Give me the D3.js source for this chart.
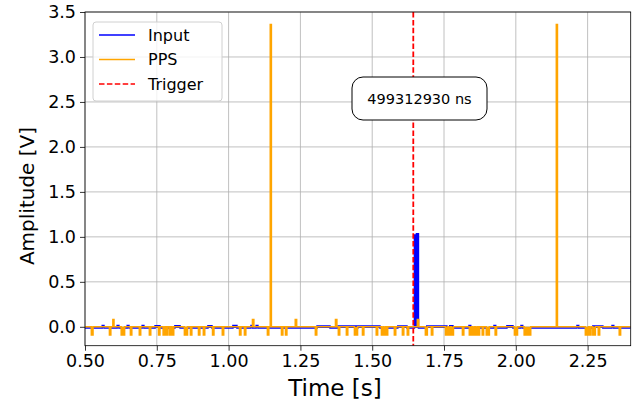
<!DOCTYPE html>
<html>
<head>
<meta charset="utf-8">
<script src="https://d3js.org/d3.v7.min.js"></script>
<style>
	body { margin: 0; background: #fff; }
	svg { font-family: "DejaVu Sans", sans-serif; display: block; }
</style>
</head>
<body>
<div class="chart"></div>
<script>

	// axis ticks
	var xTicks = [0.50, 0.75, 1.00, 1.25, 1.50, 1.75, 2.00, 2.25],
		yTicks = [0.0, 0.5, 1.0, 1.5, 2.0, 2.5, 3.0, 3.5];

	var xDomain = [0.5, 2.4],
		yDomain = [-0.21, 3.5];

	// trigger time [s] and annotation text
	var triggerTime = 1.643,
		triggerLabel = "499312930 ns";

	// PPS: big pulses [start, end, level]
	var ppsPulses = [
		[1.145, 1.149, 3.36],
		[2.141, 2.145, 3.36]
	];

	// PPS: small glitches around the 0 V baseline [start, end, level]
	var ppsGlitches = [
		[0.522, 0.528, -0.09], [0.585, 0.590, -0.09], [0.597, 0.601, 0.08],
		[0.626, 0.638, -0.09], [0.658, 0.663, -0.09], [0.689, 0.694, -0.09],
		[0.724, 0.729, -0.09], [0.756, 0.761, -0.09], [0.772, 0.778, -0.09],
		[0.783, 0.788, -0.09], [0.794, 0.799, -0.09], [0.803, 0.809, -0.09],
		[0.846, 0.857, -0.09], [0.867, 0.872, -0.09], [0.895, 0.900, -0.09],
		[0.912, 0.917, -0.09], [0.944, 0.949, -0.09], [0.978, 0.983, -0.09],
		[1.038, 1.043, -0.09], [1.055, 1.060, -0.09], [1.083, 1.088, 0.08],
		[1.135, 1.140, -0.09], [1.184, 1.189, -0.09], [1.198, 1.203, -0.09],
		[1.232, 1.237, 0.08], [1.302, 1.307, -0.09], [1.372, 1.377, 0.08],
		[1.382, 1.387, -0.09], [1.410, 1.415, -0.09], [1.438, 1.449, -0.09],
		[1.466, 1.471, -0.09], [1.514, 1.519, -0.09], [1.532, 1.538, -0.09],
		[1.541, 1.547, -0.09], [1.549, 1.554, -0.09], [1.577, 1.582, -0.09],
		[1.605, 1.610, -0.09], [1.622, 1.627, -0.09], [1.657, 1.662, 0.08],
		[1.685, 1.692, -0.09], [1.706, 1.711, -0.09], [1.755, 1.762, -0.09],
		[1.766, 1.772, -0.09], [1.776, 1.783, -0.09], [1.814, 1.819, -0.09],
		[1.838, 1.844, -0.09], [1.849, 1.855, -0.09], [1.860, 1.866, -0.09],
		[1.869, 1.874, -0.09], [1.883, 1.888, -0.09], [1.897, 1.908, -0.09],
		[1.928, 1.933, -0.09], [1.995, 2.006, -0.09], [2.029, 2.052, -0.09],
		[2.242, 2.253, -0.09], [2.256, 2.262, -0.09], [2.268, 2.277, -0.09],
		[2.287, 2.292, -0.09], [2.360, 2.365, -0.09]
	];

	// Input: baseline level and small noise bumps [start, end, level]
	var inputBaseline = -0.012;
	var inputNoise = [
		[0.560, 0.566, 0.015], [0.612, 0.618, 0.015], [0.647, 0.653, 0.015],
		[0.699, 0.705, 0.015], [0.744, 0.761, 0.012], [0.813, 0.831, 0.012],
		[0.928, 0.942, 0.012], [1.015, 1.029, 0.015], [1.078, 1.084, 0.015],
		[1.096, 1.102, 0.015], [1.308, 1.353, 0.008], [1.381, 1.447, 0.008],
		[1.450, 1.527, 0.008], [1.589, 1.621, 0.010],
		[1.647, 1.654, 1.02], [1.654, 1.661, 1.035],
		[1.690, 1.760, 0.008], [1.770, 1.781, 0.012], [1.837, 1.843, 0.015],
		[1.924, 1.930, 0.015], [1.969, 1.990, 0.012], [2.018, 2.024, 0.015],
		[2.213, 2.219, 0.015], [2.268, 2.303, 0.010], [2.335, 2.341, 0.015]
	];

	var margin = {top: 12, right: 3.3, bottom: 60.3, left: 85},
		width = 634,
		height = 406,
		innerW = width - margin.left - margin.right,
		innerH = height - margin.top - margin.bottom;

	// turns [start, end, level] segments into step points on a baseline
	function stepPoints(segments, base) {
		var pts = [[xDomain[0], base]];
		segments.slice().sort(function(a, b) { return a[0] - b[0]; }).forEach(function(s) {
			pts.push([s[0], s[2]]);
			pts.push([s[1], base]);
		});
		pts.push([xDomain[1], base]);
		return pts;
	}

	var svg = d3.select(".chart").append("svg")
		.attr("width", width)
		.attr("height", height);

	var g = svg.append("g")
		.attr("transform", "translate(" + margin.left + "," + margin.top + ")");

	var x = d3.scaleLinear().domain(xDomain).range([0, innerW]),
		y = d3.scaleLinear().domain(yDomain).range([innerH, 0]);

	// grid
	g.append("g").selectAll("line").data(xTicks).enter().append("line")
		.attr("x1", function(d) { return x(d); })
		.attr("x2", function(d) { return x(d); })
		.attr("y1", 0).attr("y2", innerH)
		.attr("stroke", "#b0b0b0").attr("stroke-width", 0.8);

	g.append("g").selectAll("line").data(yTicks).enter().append("line")
		.attr("y1", function(d) { return y(d); })
		.attr("y2", function(d) { return y(d); })
		.attr("x1", 0).attr("x2", innerW)
		.attr("stroke", "#b0b0b0").attr("stroke-width", 0.8);

	// traces
	g.append("defs").append("clipPath").attr("id", "clip")
		.append("rect").attr("width", innerW).attr("height", innerH);

	var line = d3.line()
		.x(function(d) { return x(d[0]); })
		.y(function(d) { return y(d[1]); })
		.curve(d3.curveStepAfter);

	var traces = g.append("g").attr("clip-path", "url(#clip)");

	// path starts and ends on the baseline, so the fill fills the glitches
	traces.append("path")
		.attr("d", line(stepPoints(inputNoise, inputBaseline)))
		.attr("fill", "blue").attr("stroke", "blue").attr("stroke-width", 1.5);

	traces.append("path")
		.attr("d", line(stepPoints(ppsGlitches.concat(ppsPulses), 0)))
		.attr("fill", "orange").attr("stroke", "orange").attr("stroke-width", 1.5);

	traces.append("line")
		.attr("x1", x(triggerTime)).attr("x2", x(triggerTime))
		.attr("y1", 0).attr("y2", innerH)
		.attr("stroke", "red").attr("stroke-width", 1.8)
		.attr("stroke-dasharray", "5.5,2.4");

	// axes
	var xAxis = g.append("g")
		.attr("transform", "translate(0," + innerH + ")")
		.call(d3.axisBottom(x).tickValues(xTicks).tickFormat(d3.format(".2f")).tickSize(5).tickPadding(4));

	var yAxis = g.append("g")
		.call(d3.axisLeft(y).tickValues(yTicks).tickFormat(d3.format(".1f")).tickSize(5).tickPadding(4));

	[xAxis, yAxis].forEach(function(a) {
		a.select(".domain").remove();
		a.selectAll("text").attr("fill", "#000")
			.style("font-size", "17.5px").style("font-family", "DejaVu Sans");
		a.selectAll("line").attr("stroke", "#000").attr("stroke-width", 0.8);
	});

	// frame
	g.append("rect")
		.attr("width", innerW).attr("height", innerH)
		.attr("fill", "none").attr("stroke", "#000").attr("stroke-width", 0.8);

	// axis labels
	svg.append("text")
		.attr("x", 335)
		.attr("y", 396)
		.attr("text-anchor", "middle")
		.style("font-size", "23px")
		.text("Time [s]");

	svg.append("text")
		.attr("transform", "translate(34,196) rotate(-90)")
		.attr("text-anchor", "middle")
		.style("font-size", "20px")
		.text("Amplitude [V]");

	// annotation box
	svg.append("rect")
		.attr("x", 352).attr("y", 77)
		.attr("width", 135).attr("height", 43)
		.attr("rx", 11).attr("ry", 11)
		.attr("fill", "#fff").attr("stroke", "#000").attr("stroke-width", 1);

	svg.append("text")
		.attr("x", 419.5).attr("y", 99)
		.attr("text-anchor", "middle")
		.attr("dominant-baseline", "central")
		.style("font-size", "14.5px")
		.text(triggerLabel);

	// legend
	var legendItems = [
		{name: "Input", color: "blue", dash: null},
		{name: "PPS", color: "orange", dash: null},
		{name: "Trigger", color: "red", dash: "5.5,2.4"}
	];

	var legend = svg.append("g");

	legend.append("rect")
		.attr("x", 93).attr("y", 22)
		.attr("width", 129).attr("height", 79)
		.attr("rx", 3).attr("ry", 3)
		.attr("fill", "#fff").attr("fill-opacity", 0.8)
		.attr("stroke", "#d0d0d0").attr("stroke-width", 1);

	legendItems.forEach(function(d, i) {
		var ly = 35 + i * 24.5;
		legend.append("line")
			.attr("x1", 99).attr("x2", 135)
			.attr("y1", ly).attr("y2", ly)
			.attr("stroke", d.color).attr("stroke-width", 1.5)
			.attr("stroke-dasharray", d.dash);
		legend.append("text")
			.attr("x", 148).attr("y", ly + 5.5)
			.style("font-size", "16px")
			.text(d.name);
	});

</script>
</body>
</html>
